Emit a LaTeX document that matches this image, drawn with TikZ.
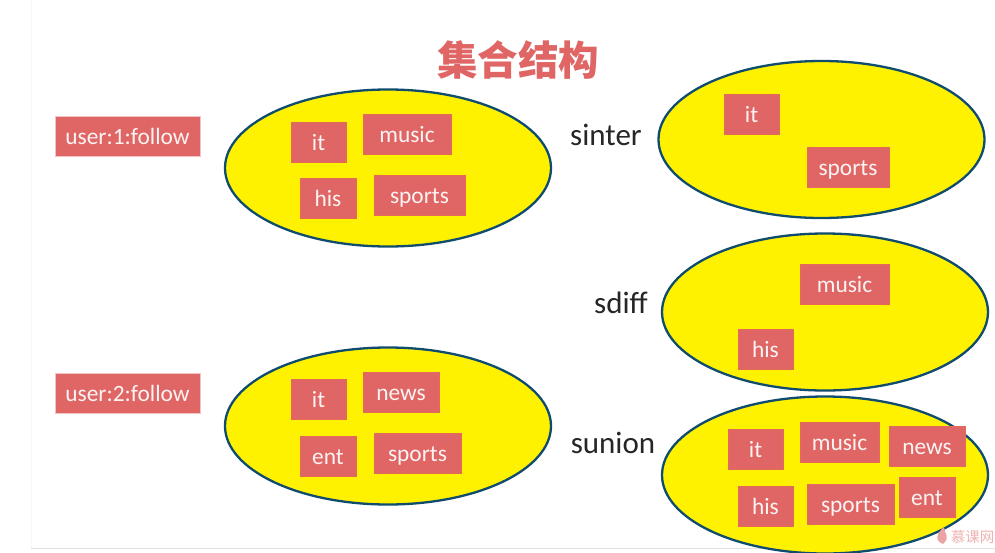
\documentclass[tikz,border=0pt]{standalone}
\usepackage{fontspec}
\setmainfont{Carlito}
\newfontfamily\cjk{Noto Sans CJK SC}[BoldFont={Noto Sans CJK SC Black}]
\usetikzlibrary{shapes.geometric}
\definecolor{tagred}{HTML}{E06666}
\definecolor{setblue}{HTML}{0F4C6E}
\definecolor{setyellow}{HTML}{FFF200}
\tikzset{
    setshape/.style={ellipse,draw=setblue,fill=setyellow,line width=2.3pt,inner sep=0pt,minimum width=326,minimum height=157},
    tag/.style={draw=tagred!85!orange,fill=tagred,text=white!92!tagred,line width=0.6pt,inner sep=0pt,minimum height=40,text height=16,text depth=0,font=\fontsize{23.4}{24}\selectfont},
    keyname/.style={draw=tagred!40!white,fill=tagred,text=white!92!tagred,line width=0.6pt,inner sep=0pt,minimum width=145,minimum height=40,text height=16,text depth=0,font=\fontsize{23.4}{24}\selectfont},
    opname/.style={text=black!85,inner sep=0pt,font=\fontsize{31}{31}\selectfont}
}
\begin{document}
\begin{tikzpicture}[x=1pt,y=-1pt]
        \useasboundingbox (0,0) rectangle (995,552);
        \fill[white] (0,0) rectangle (995,552);
        \draw[black!3,line width=0.7pt] (31,0) -- (31,548);
        \draw[black!12,line width=1pt] (31,548) -- (995,548);
        \node[font=\cjk\bfseries\fontsize{40.5}{41}\selectfont,text=tagred,inner sep=0pt] (title) at (518,60) {集合结构};
        %% user 1
        \node[keyname] (key1) at (127.5,136) {user:1:follow};
        \node[setshape] (set1) at (388,168) {};
        \node[tag,minimum width=55] (it1) at (318.5,142) {it};
        \node[tag,minimum width=88] (music1) at (407,134) {music};
        \node[tag,minimum width=56] (his1) at (328,198) {his};
        \node[tag,minimum width=91] (sports1) at (419.5,195) {sports};
        %% user 2
        \node[keyname] (key2) at (127.5,393) {user:2:follow};
        \node[setshape] (set2) at (388,426) {};
        \node[tag,minimum width=55] (it2) at (318.5,399) {it};
        \node[tag,minimum width=76] (news2) at (401,392) {news};
        \node[tag,minimum width=56] (ent2) at (328,456) {ent};
        \node[tag,minimum width=87] (sports2) at (417.5,453) {sports};
        %% sinter
        \node[opname] (sinter) at (606,135) {sinter};
        \node[setshape] (set3) at (821.5,139.5) {};
        \node[tag,minimum width=55] (it3) at (751.5,114) {it};
        \node[tag,minimum width=82] (sports3) at (848,167) {sports};
        %% sdiff
        \node[opname] (sdiff) at (621,303) {sdiff};
        \node[setshape] (set4) at (825,312) {};
        \node[tag,minimum width=89] (music4) at (844.5,284) {music};
        \node[tag,minimum width=55] (his4) at (765.5,349) {his};
        %% sunion
        \node[opname] (sunion) at (613,443) {sunion};
        \node[setshape] (set5) at (825,475) {};
        \node[tag,minimum width=55] (it5) at (755.5,449) {it};
        \node[tag,minimum width=79] (music5) at (839.5,442) {music};
        \node[tag,minimum width=76] (news5) at (927,446) {news};
        \node[tag,minimum width=55] (his5) at (765.5,506) {his};
        \node[tag,minimum width=87] (sports5) at (850.5,504) {sports};
        \node[tag,minimum width=56] (ent5) at (927,497) {ent};
        %% watermark
        \fill[tagred!60!white] (943,544) .. controls (933,540) and (938,532) .. (944,527) .. controls (944,533) and (951,537) .. (943,544);
        \node[font=\cjk\fontsize{14.5}{15}\selectfont,text=tagred!50!white,inner sep=0pt,anchor=east] (mark) at (994.5,537) {慕课网};
\end{tikzpicture}
\end{document}
